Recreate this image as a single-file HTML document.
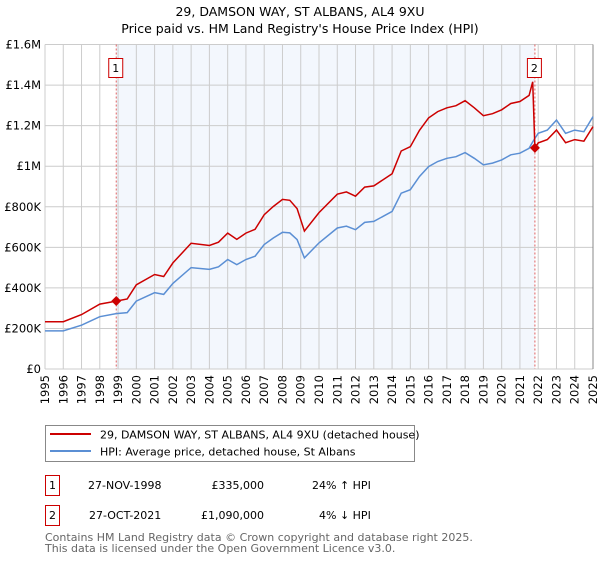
<!DOCTYPE html>
<html><head><meta charset="utf-8"><style>
body{margin:0;background:#fff;width:600px;height:560px;overflow:hidden;font-family:"DejaVu Sans","Liberation Sans",sans-serif}
svg text{font-family:"DejaVu Sans","Liberation Sans",sans-serif}
</style></head><body>
<svg id="chart" width="600" height="560" xmlns="http://www.w3.org/2000/svg">
<text x="300" y="16" text-anchor="middle" font-size="12.5">29, DAMSON WAY, ST ALBANS, AL4 9XU</text>
<text x="300" y="33" text-anchor="middle" font-size="12.5">Price paid vs. HM Land Registry's House Price Index (HPI)</text>
<g id="plot"></g>
<g>
<rect x="45.5" y="425.5" width="369" height="36" fill="#fff" stroke="#888"/>
<line x1="50" y1="434" x2="91" y2="434" stroke="#cc0000" stroke-width="2"/>
<text x="100" y="438.5" font-size="11">29, DAMSON WAY, ST ALBANS, AL4 9XU (detached house)</text>
<line x1="50" y1="451" x2="91" y2="451" stroke="#5b8fd4" stroke-width="2"/>
<text x="100" y="455.5" font-size="11">HPI: Average price, detached house, St Albans</text>
</g>
<g font-size="11">
<rect x="45.5" y="475.5" width="14" height="20" fill="none" stroke="#cc0000"/>
<text x="52.5" y="489" text-anchor="middle">1</text>
<text x="88" y="489">27-NOV-1998</text>
<text x="264" y="489" text-anchor="end">£335,000</text>
<text x="312" y="489">24% ↑ HPI</text>
<rect x="45.5" y="505.5" width="14" height="20" fill="none" stroke="#cc0000"/>
<text x="52.5" y="519" text-anchor="middle">2</text>
<text x="89" y="519">27-OCT-2021</text>
<text x="264" y="519" text-anchor="end">£1,090,000</text>
<text x="319" y="519">4% ↓ HPI</text>
</g>
<text x="45" y="541" font-size="11" fill="#666">Contains HM Land Registry data © Crown copyright and database right 2025.</text>
<text x="45" y="552" font-size="11" fill="#666">This data is licensed under the Open Government Licence v3.0.</text>
</svg>
<script>
const years=[1995,1996,1997,1998,1998.9,1999.5,2000,2001,2001.5,2002,2003,2004,2004.5,2005,2005.5,2006,2006.5,2007,2007.5,2008,2008.4,2008.8,2009.2,2010,2011,2011.5,2012,2012.5,2013,2014,2014.5,2015,2015.5,2016,2016.5,2017,2017.5,2018,2018.5,2019,2019.5,2020,2020.5,2021,2021.5,2021.7,2021.82,2022,2022.5,2023,2023.5,2024,2024.5,2025];
const hpiValues=[188,188,216,258,273,278,335,376,368,422,500,491,504,540,515,540,556,614,646,674,671,638,548,622,695,704,687,723,728,777,867,884,949,998,1023,1039,1047,1067,1039,1007,1015,1031,1056,1064,1088,1120,1137,1162,1178,1227,1162,1178,1170,1244];
const priceValues=[233,233,268,320,335,345,415,466,456,523,620,609,625,670,639,670,689,761,801,836,832,791,680,771,862,873,852,897,903,963,1075,1096,1177,1238,1269,1288,1298,1323,1288,1249,1259,1278,1309,1319,1349,1416,1090,1115,1131,1178,1116,1131,1123,1195];
const saleYears=[1998.9,2021.82];
const saleValues=[335,1090];
const yTicks=[0,200,400,600,800,1000,1200,1400,1600];
const yTickLabels=["£0","£200K","£400K","£600K","£800K","£1M","£1.2M","£1.4M","£1.6M"];
const xTicks=[1995,1996,1997,1998,1999,2000,2001,2002,2003,2004,2005,2006,2007,2008,2009,2010,2011,2012,2013,2014,2015,2016,2017,2018,2019,2020,2021,2022,2023,2024,2025];

const L=45,R=593,T=44.5,B=369;
const x=v=>L+(v-1995)/30*(R-L);
const y=v=>B-v/1600*(B-T);
const NS="http://www.w3.org/2000/svg";
const g=document.getElementById('plot');
function mk(tag,attrs,parent){const e=document.createElementNS(NS,tag);for(const k in attrs)e.setAttribute(k,attrs[k]);(parent||g).appendChild(e);return e;}

const shade=mk('rect',{x:x(saleYears[0]),y:T,width:x(saleYears[1])-x(saleYears[0]),height:B-T,fill:'#eef3fc',opacity:0.7});


xTicks.forEach(t=>{
  const l=mk('line',{x1:x(t),x2:x(t),y1:T,y2:B,stroke:'#ccc','stroke-width':1});
  
  
  const tx=mk('text',{x:0,y:0,'font-size':11.5,'text-anchor':'end',transform:`translate(${x(t)+4},${B+6}) rotate(-90)`});
  tx.textContent=t;
  
  
});
yTicks.forEach((t,i)=>{
  const l=mk('line',{x1:L,x2:R,y1:y(t),y2:y(t),stroke:'#ccc','stroke-width':1});
  
  
  const tx=mk('text',{x:L-4,y:y(t)+4,'font-size':11.5,'text-anchor':'end'});
  tx.textContent=yTickLabels[i];
  
  
});
const edge=mk('line',{x1:R,x2:R,y1:T,y2:B,stroke:'#888','stroke-width':1});


saleYears.forEach((s,i)=>{
  const l=mk('line',{x1:x(s),x2:x(s),y1:T,y2:B,stroke:'#e06060','stroke-width':1,'stroke-dasharray':'2,2'});
  
  
});
const pts=a=>years.map((yr,i)=>x(yr).toFixed(1)+','+y(a[i]).toFixed(1)).join(' ');
const hl=mk('polyline',{points:pts(hpiValues),fill:'none',stroke:'#5b8fd4','stroke-width':1.5});


const pl=mk('polyline',{points:pts(priceValues),fill:'none',stroke:'#cc0000','stroke-width':1.5});


saleYears.forEach((s,i)=>{
  const cx=x(s),cy=y(saleValues[i]);
  const d=mk('polygon',{points:`${cx},${cy-5} ${cx+5},${cy} ${cx},${cy+5} ${cx-5},${cy}`,fill:'#cc0000'});
  
  
  const bx=mk('rect',{x:cx-7.5,y:58.5,width:14,height:19,fill:'#fff',stroke:'#cc0000'});
  
  
  const t=mk('text',{x:cx-0.5,y:72,'font-size':11,'text-anchor':'middle'});
  t.textContent=String(i+1);
  
  
});
</script>
</body></html>
